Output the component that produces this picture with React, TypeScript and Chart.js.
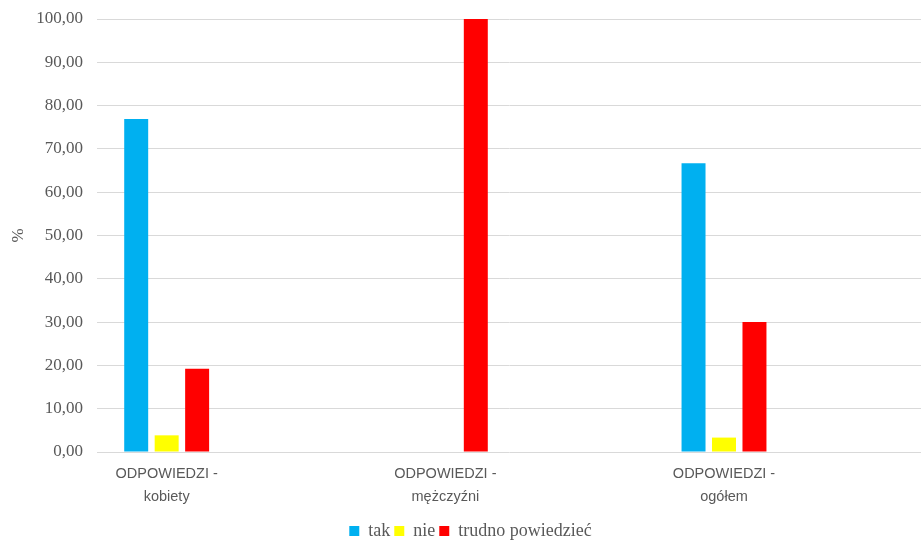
import React, { useEffect, useRef } from "react";
import { Chart, registerables } from "chart.js";

Chart.register(...registerables);

const categories: string[][] = [
  ["ODPOWIEDZI -", "kobiety"],
  ["ODPOWIEDZI -", "mężczyźni"],
  ["ODPOWIEDZI -", "ogółem"],
];
const seriesNames = ["tak", "nie", "trudno powiedzieć"];
const tak = [76.92, 0, 66.67];
const nie = [3.85, 0, 3.33];
const trudno = [19.23, 100, 30.0];
const colors = ["#00B0F0", "#FFFF00", "#FF0000"];
const yTicks = [0, 10, 20, 30, 40, 50, 60, 70, 80, 90, 100];

// interleave empty slots so category groups sit where the original placed them
const labels: (string | string[])[] = [];
categories.forEach((c) => {
  labels.push(c);
  labels.push("");
});
const spread = (arr: number[]) => {
  const out: (number | null)[] = [];
  arr.forEach((v) => {
    out.push(v === 0 ? null : v);
    out.push(null);
  });
  return out;
};

// the original plot area runs past the right edge of the picture
const extendPlugin = {
  id: "extendPlot",
  afterLayout(chart: any) {
    const x = chart.scales.x;
    const y = chart.scales.y;
    const newRight = 933;
    const newTop = 19;
    x.right = newRight;
    x.width = newRight - x.left;
    x.configure();
    y.top = newTop;
    y.height = y.bottom - newTop;
    y.configure();
    chart.chartArea.right = newRight;
    chart.chartArea.width = newRight - chart.chartArea.left;
    chart.chartArea.top = newTop;
    chart.chartArea.height = chart.chartArea.bottom - newTop;
    const lg = chart.legend;
    if (lg) {
      lg.top += 10;
      lg.bottom += 10;
      lg.left += 10;
      lg.right += 10;
    }
  },
};

export default function App() {
  const ref = useRef<HTMLCanvasElement>(null);
  useEffect(() => {
    document.body.style.margin = "0";
    const ctx = ref.current!;
    const sets = [tak, nie, trudno];
    const chart = new Chart(ctx, {
      type: "bar",
      data: {
        labels,
        datasets: sets.map((s, i) => ({
          label: seriesNames[i],
          data: spread(s),
          backgroundColor: colors[i],
          borderWidth: 0,
          categoryPercentage: 0.656,
          barPercentage: 0.787,
          skipNull: false,
        })),
      },
      plugins: [extendPlugin],
      options: {
        animation: false,
        responsive: false,
        maintainAspectRatio: false,
        layout: { padding: { top: 15, right: 0, bottom: 0, left: 0 } },
        plugins: {
          tooltip: { enabled: false },
          legend: {
            position: "bottom",
            labels: {
              boxWidth: 10,
              boxHeight: 10,
              padding: 4,
              color: "#595959",
              font: { family: "'Liberation Serif', serif", size: 18 },
            },
          },
        },
        scales: {
          x: {
            grid: { display: false, drawTicks: false },
            border: { display: false },
            ticks: {
              color: "#595959",
              padding: 10,
              maxRotation: 0,
              autoSkip: false,
              font: { family: "'Liberation Sans', sans-serif", size: 14.5, lineHeight: 1.6 },
            },
            afterFit: (scale: any) => {
              scale.height = 56;
            },
          },
          y: {
            min: 0,
            max: 100,
            afterBuildTicks: (scale: any) => {
              scale.ticks = yTicks.map((v) => ({ value: v }));
            },
            grid: { color: "#d9d9d9", lineWidth: 1, drawTicks: false },
            border: { display: false },
            ticks: {
              color: "#595959",
              padding: 14,
              font: { family: "'Liberation Serif', serif", size: 17 },
              callback: (v: any) => Number(v).toFixed(2).replace(".", ","),
            },
            title: {
              display: true,
              text: "%",
              color: "#595959",
              padding: { top: 8, bottom: 0 },
              font: { family: "'Liberation Serif', serif", size: 17 },
            },
            afterFit: (scale: any) => {
              scale.width = 97;
            },
          },
        },
      },
    });
    return () => chart.destroy();
  }, []);
  return <canvas ref={ref} width={921} height={540} style={{ display: "block" }} />;
}
